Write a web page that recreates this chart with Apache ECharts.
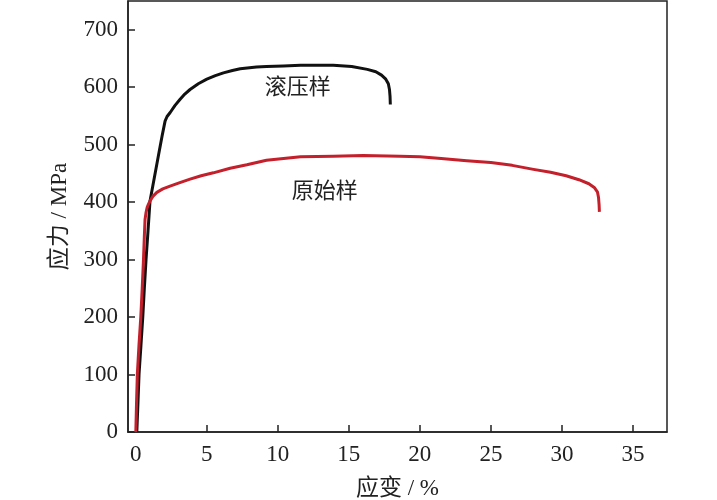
<!DOCTYPE html>
<html>
<head>
<meta charset="utf-8">
<script src="https://cdn.jsdelivr.net/npm/echarts@6/dist/echarts.min.js"></script>
<style>html,body{margin:0;padding:0;background:#fff;}#c{width:717px;height:500px;}</style>
</head>
<body>
<div id="c"></div>
<script>
var xTicks = [0, 5, 10, 15, 20, 25, 30, 35];
var yTicks = [0, 100, 200, 300, 400, 500, 600, 700];

var rolledStrain = [0.07, 0.15, 0.23, 0.36, 0.49, 0.6, 0.72, 0.86, 1.0, 1.3, 1.6, 1.85, 2.06, 2.2, 2.42, 2.75, 3.12, 3.45, 3.82, 4.4, 5.0, 5.6, 6.17, 6.8, 7.35, 8.5, 9.2, 10.4, 11.6, 13.9, 15.2, 16.3, 16.9, 17.3, 17.6, 17.78, 17.86, 17.9, 17.92];
var rolledStress = [0, 50, 102, 150, 200, 250, 300, 350, 402, 442, 482, 515, 541, 549, 556, 568, 579, 588, 596, 606, 614, 620, 625, 629, 632, 635, 636, 637, 638, 638, 636, 631, 627, 621, 614, 606, 596, 584, 570];

var origStrain = [0, 0.05, 0.11, 0.22, 0.35, 0.45, 0.54, 0.6, 0.65, 0.72, 0.8, 0.9, 1.0, 1.2, 1.48, 1.9, 2.41, 3.1, 3.82, 4.6, 5.46, 6.64, 7.82, 9.2, 10.4, 11.6, 13.9, 16, 18.6, 20, 21.5, 23.3, 25, 26.5, 28, 29.2, 30.3, 31.2, 31.9, 32.3, 32.5, 32.58, 32.62, 32.64];
var origStress = [0, 50, 102, 150, 200, 250, 300, 340, 370, 382, 391, 397, 402, 410, 417, 423, 428, 434, 440, 446, 451, 459, 465, 473, 476, 479, 480, 481, 480, 479, 476, 472, 469, 464, 457, 452, 446, 439, 432, 425, 418, 408, 395, 383];

var labelNames = ['滚压样', '原始样'];
var labelAt = [[11.4, 598], [13.3, 417]];

function pairs(xs, ys) { return xs.map(function (x, i) { return [x, ys[i]]; }); }

var FONT = '"Liberation Serif", "Times New Roman", "Noto Sans CJK SC", serif';
var chart = echarts.init(document.getElementById('c'), null, { renderer: 'canvas' });
chart.setOption({
  animation: false,
  backgroundColor: '#fff',
  grid: { left: 128, right: 50, top: 1, bottom: 68, outerBoundsMode: 'none', containLabel: false, show: true, borderColor: '#222', borderWidth: 1.5, backgroundColor: 'transparent' },
  xAxis: {
    type: 'value', min: -0.55, max: 37.4,
    name: '应变 / %', nameLocation: 'middle', nameGap: 45,
    nameTextStyle: { fontFamily: FONT, fontSize: 23, color: '#222' },
    axisLine: { show: true, onZero: false, lineStyle: { color: '#222', width: 1.5 } },
    axisTick: { show: true, inside: true, length: 7, customValues: xTicks, lineStyle: { color: '#222', width: 1.5 } },
    axisLabel: { customValues: xTicks, fontFamily: FONT, fontSize: 23, color: '#222', margin: 11 },
    splitLine: { show: false }
  },
  yAxis: {
    type: 'value', min: 0, max: 750,
    name: '应力 / MPa', nameLocation: 'middle', nameGap: 57,
    nameTextStyle: { fontFamily: FONT, fontSize: 23, color: '#222' },
    axisLine: { show: true, onZero: false, lineStyle: { color: '#222', width: 1.5 } },
    axisTick: { show: true, inside: true, length: 7, customValues: yTicks, lineStyle: { color: '#222', width: 1.5 } },
    axisLabel: { customValues: yTicks, fontFamily: FONT, fontSize: 23, color: '#222', margin: 10 },
    splitLine: { show: false }
  },
  series: [
    { name: labelNames[0], type: 'line', data: pairs(rolledStrain, rolledStress), showSymbol: false, smooth: false, lineStyle: { color: '#111', width: 3, join: 'round' }, z: 3 },
    { name: labelNames[1], type: 'line', data: pairs(origStrain, origStress), showSymbol: false, smooth: false, lineStyle: { color: '#c3202b', width: 3, join: 'round' }, z: 4 }
  ]
});
var g = labelNames.map(function (t, i) {
  var p = chart.convertToPixel({ gridIndex: 0 }, labelAt[i]);
  return { type: 'text', x: p[0], y: p[1], style: { text: t, fontFamily: FONT, fontSize: 22, fill: '#222', align: 'center', verticalAlign: 'middle' } };
});
chart.setOption({ graphic: g });
</script>
</body>
</html>
